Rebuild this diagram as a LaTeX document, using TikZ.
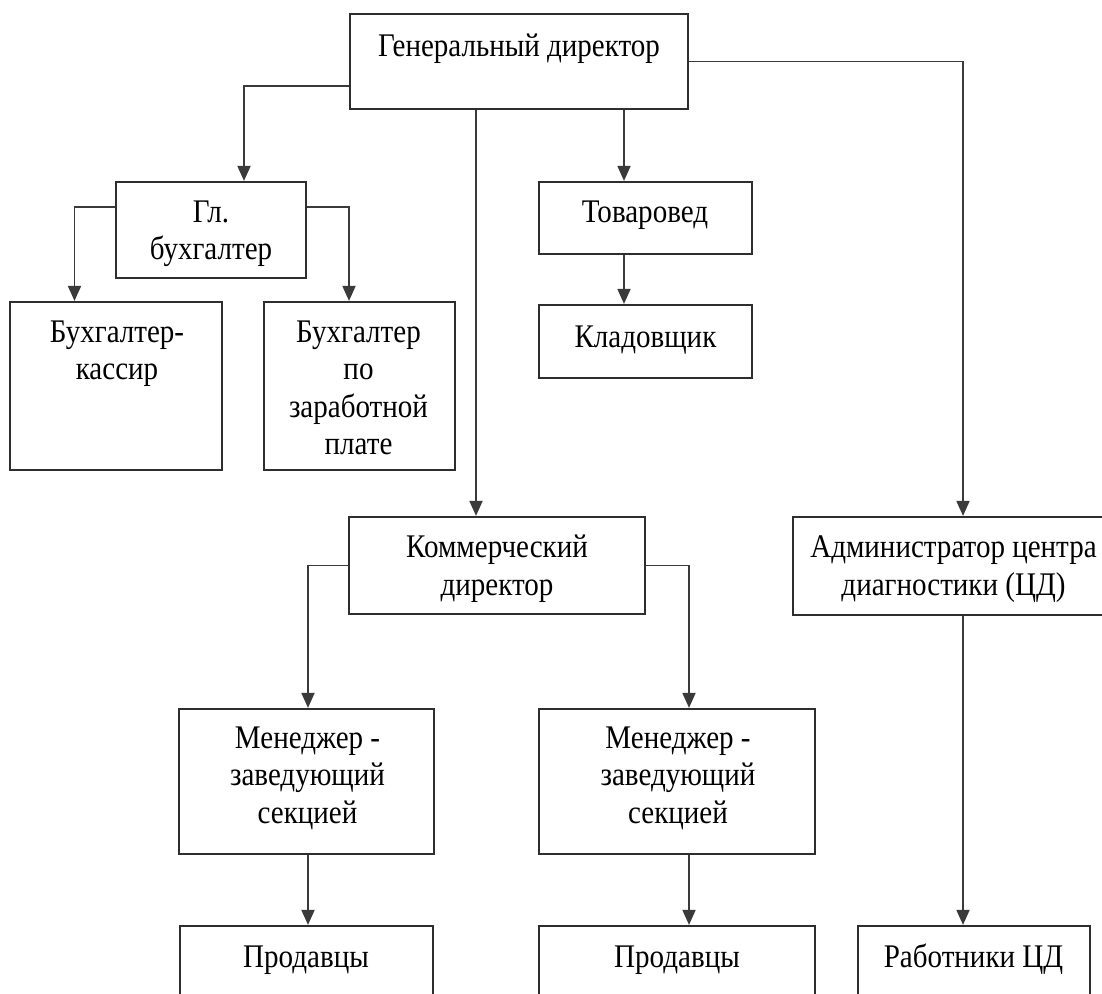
\documentclass[tikz,border=0pt]{standalone}
\usepackage{fontspec}
\setmainfont{Liberation Serif}[FakeStretch=0.88]
\usetikzlibrary{arrows.meta,calc}
\definecolor{boxc}{HTML}{2E2E2E}
\definecolor{linec}{HTML}{3A3A3A}
\begin{document}
\begin{tikzpicture}[x=1pt,y=-1pt,
  box/.style={draw=boxc, line width=2.2pt, rectangle, inner sep=0pt, fill=none},
  txt/.style={anchor=base, align=center, inner sep=0pt, text=black, font=\fontsize{33}{37.5}\selectfont},
  arr/.style={draw=linec, line width=1.8pt, -{Triangle[width=13pt,length=15pt]}}]
\useasboundingbox (0,0) rectangle (1102,993);
\clip (0,0) rectangle (1102,993);
% boxes
\node[box, minimum width=338pt, minimum height=95pt] (gd) at (519,61.5) {};
\node[box, minimum width=190pt, minimum height=96pt] (gb) at (211,230) {};
\node[box, minimum width=212pt, minimum height=168pt] (bk) at (116,386) {};
\node[box, minimum width=191pt, minimum height=168pt] (bz) at (359.5,386) {};
\node[box, minimum width=213pt, minimum height=72pt] (tv) at (645.5,218) {};
\node[box, minimum width=213pt, minimum height=73pt] (kl) at (645.5,341.5) {};
\node[box, minimum width=296pt, minimum height=97pt] (kd) at (497,565.5) {};
\node[box, minimum width=320pt, minimum height=98pt] (ad) at (953,566) {};
\node[box, minimum width=255pt, minimum height=145pt] (m1) at (306.5,781.5) {};
\node[box, minimum width=276pt, minimum height=145pt] (m2) at (677,781.5) {};
\node[box, minimum width=253pt, minimum height=90pt] (p1) at (306.5,971) {};
\node[box, minimum width=276pt, minimum height=90pt] (p2) at (677,971) {};
\node[box, minimum width=232pt, minimum height=90pt] (rc) at (974,971) {};
% texts (anchor base = baseline of the last line)
\node[txt] (gdt) at (519,56) {Генеральный директор};
\node[txt] (gbt) at (211,259.5) {Гл.\\бухгалтер};
\node[txt] (bkt) at (117,379.5) {Бухгалтер-\\кассир};
\node[txt] (bzt) at (358.5,454.5) {Бухгалтер\\по\\заработной\\плате};
\node[txt] (tvt) at (645,222) {Товаровед};
\node[txt] (klt) at (645.5,347) {Кладовщик};
\node[txt] (kdt) at (497,595) {Коммерческий\\директор};
\node[txt] (adt) at (953.5,595) {Администратор центра\\диагностики (ЦД)};
\node[txt] (m1t) at (307.5,823) {Менеджер -\\заведующий\\секцией};
\node[txt] (m2t) at (678,823) {Менеджер -\\заведующий\\секцией};
\node[txt] (p1t) at (306,967) {Продавцы};
\node[txt] (p2t) at (677,967) {Продавцы};
\node[txt] (rct) at (973.5,967) {Работники ЦД};
% connector anchor points
\coordinate (c1) at ($(gd.south)+(-43,0)$);
\coordinate (c2) at ($(gd.south)+(105,0)$);
\coordinate (c3) at ($(tv.south)+(-21.5,0)$);
\coordinate (c4) at ($(ad.south)+(10,0)$);
\coordinate (c5) at ($(m1.south)+(1.5,0)$);
\coordinate (c6) at ($(m2.south)+(12,0)$);
% connectors
\draw[arr] ($(gd.west)+(0,24.5)$) -| ($(gb.north)+(33,0)$);
\draw[arr] (c1) -- (c1 |- kd.north);
\draw[arr] (c2) -- (c2 |- tv.north);
\draw[arr] (gd.east) -| ($(ad.north)+(10,0)$);
\draw[arr] ($(gb.west)+(0,-23)$) -| ($(bk.north)+(-41.5,0)$);
\draw[arr] ($(gb.east)+(0,-23)$) -| ($(bz.north)+(-10.5,0)$);
\draw[arr] (c3) -- (c3 |- kl.north);
\draw[arr] (kd.west) -| ($(m1.north)+(1.5,0)$);
\draw[arr] (kd.east) -| ($(m2.north)+(12,0)$);
\draw[arr] (c5) -- (c5 |- p1.north);
\draw[arr] (c6) -- (c6 |- p2.north);
\draw[arr] (c4) -- (c4 |- rc.north);
\end{tikzpicture}
\end{document}
